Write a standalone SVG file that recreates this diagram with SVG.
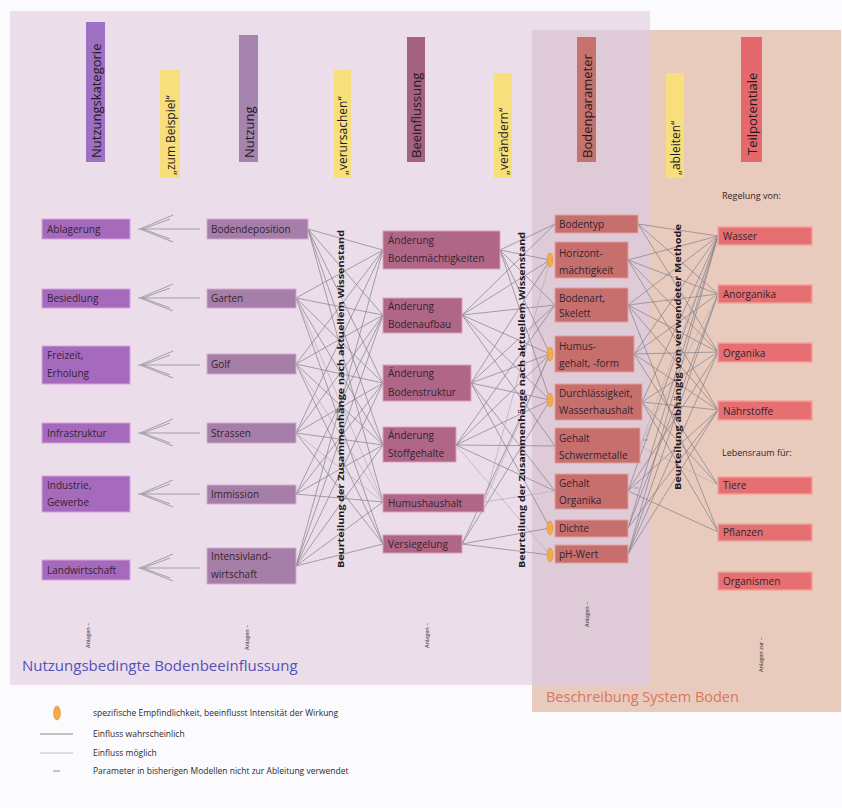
<svg xmlns="http://www.w3.org/2000/svg" width="842" height="808" viewBox="0 0 842 808">
<style>
text{font-family:"Open Sans","Liberation Sans",sans-serif;fill:#33242f}
.t{font-size:10px}
.h{font-size:13px;dominant-baseline:central;fill:#241a22}
.q{font-size:12px;dominant-baseline:central;fill:#241a22}
.v{font-size:9.5px;dominant-baseline:central;fill:#1f1a1f;font-weight:bold}
.s{font-size:5.5px;dominant-baseline:central;fill:#222}
.lg{font-size:8.5px;fill:#2a2a30}
.n1{fill:#a66abd;stroke:#d9a2db;stroke-width:1}
.n2{fill:#a67fa8;stroke:#d7a9cf;stroke-width:1}
.n3{fill:#b06687;stroke:#dba0b8;stroke-width:1}
.n4{fill:#c66f6d;stroke:#e3a19a;stroke-width:1}
.n5{fill:#e56f71;stroke:#f0a3a0;stroke-width:1.5}
.y{fill:#f7df7c}
.c{stroke:#838089;stroke-width:0.7;fill:none}
.c2{stroke:#b4aeb8;stroke-width:0.7;fill:none}
.f{stroke:#a19ea6;stroke-width:1;fill:none}
.m{fill:#f2aa4a;stroke:#d88a30;stroke-width:0.5}
</style>
<rect x="0" y="0" width="842" height="808" fill="#fbfbfd"/>
<!-- backgrounds -->
<rect x="532" y="30" width="309" height="682" fill="#e8cbbc"/>
<rect x="10" y="11" width="640" height="674" fill="#e9dce8" opacity="0.93"/>
<rect x="532" y="30" width="118" height="655" fill="#dfcbd8"/>
<text x="22" y="671" style="font-size:15px;fill:#5451b5">Nutzungsbedingte Bodenbeeinflussung</text>
<text x="546" y="702" style="font-size:14.5px;fill:#d9765f">Beschreibung System Boden</text>

<!-- headers -->
<g id="header-nutzungskategorie"><rect x="86" y="22" width="19" height="140" fill="#9d70c2"/><text class="h" transform="translate(95.5,158) rotate(-90)">Nutzungskategorie</text></g>
<g id="header-zumbeispiel"><rect x="160" y="70" width="20" height="108" class="y"/><text class="q" transform="translate(170,175) rotate(-90)">„zum Beispiel“</text></g>
<g id="header-nutzung"><rect x="239" y="35" width="19" height="127" fill="#a584ae"/><text class="h" transform="translate(248.5,158) rotate(-90)">Nutzung</text></g>
<g id="header-verursachen"><rect x="334" y="70" width="17" height="108" class="y"/><text class="q" transform="translate(342.5,175) rotate(-90)">„verursachen“</text></g>
<g id="header-beeinflussung"><rect x="407" y="37" width="18" height="125" fill="#a3627f"/><text class="h" transform="translate(416,158) rotate(-90)">Beeinflussung</text></g>
<g id="header-veraendern"><rect x="494" y="73" width="18" height="105" class="y"/><text class="q" transform="translate(503,175) rotate(-90)">„verändern“</text></g>
<g id="header-bodenparameter"><rect x="577" y="37" width="19" height="125" fill="#c6726d"/><text class="h" transform="translate(586.5,158) rotate(-90)">Bodenparameter</text></g>
<g id="header-ableiten"><rect x="666" y="73" width="18" height="105" class="y"/><text class="q" transform="translate(675,175) rotate(-90)">„ableiten“</text></g>
<g id="header-teilpotentiale"><rect x="741" y="37" width="21" height="125" fill="#e5696c"/><text class="h" transform="translate(751.5,155) rotate(-90)">Teilpotentiale</text></g>
<text class="t" x="722" y="199" style="font-size:9px">Regelung von:</text>
<text class="t" x="722" y="456" style="font-size:9px">Lebensraum für:</text>

<!-- connectors -->
<g id="connectors">
<g id="fans" class="f">
<path d="M200 229H138M140 229L173 215M140 229L173 242M143 229L170 219M143 229L170 239"/>
<path d="M200 298H138M140 298L173 284M140 298L173 311M143 298L170 288M143 298L170 308"/>
<path d="M200 365H138M140 365L173 351M140 365L173 378M143 365L170 355M143 365L170 375"/>
<path d="M200 433H138M140 433L173 419M140 433L173 446M143 433L170 423M143 433L170 443"/>
<path d="M200 494H138M140 494L173 480M140 494L173 507M143 494L170 484M143 494L170 504"/>
<path d="M200 568H138M140 568L173 554M140 568L173 581M143 568L170 558M143 568L170 578"/>
</g>
<g id="c23">
<path class="c" d="M308 229L383 250M308 229L383 315M308 229L383 383M308 229L383 445M308 229L383 502"/>
<path class="c" d="M296 298L383 250M296 298L383 315M296 298L383 383M296 298L383 445M296 298L383 544"/>
<path class="c2" d="M296 298L383 502"/>
<path class="c" d="M296 364L383 250M296 364L383 315M296 364L383 383M296 364L383 445M296 364L383 544"/>
<path class="c" d="M296 433L383 250M296 433L383 315M296 433L383 383M296 433L383 445M296 433L383 544"/>
<path class="c2" d="M296 433L383 502M296 364L383 502"/>
<path class="c" d="M296 494L383 383M296 494L383 445M296 494L383 502M296 494L383 315"/>
<path class="c" d="M296 566L383 250M296 566L383 315M296 566L383 383M296 566L383 445M296 566L383 502M296 566L383 544"/>
</g>
<g id="c34">
<path class="c" d="M500 250L555 224M500 250L550 260M500 250L555 305M500 250L550 354M500 250L550 400"/>
<path class="c" d="M462 315L555 224M462 315L550 260M462 315L555 305M462 315L550 354M462 315L550 400M462 315L555 446"/>
<path class="c" d="M471 383L550 260M471 383L555 305M471 383L550 354M471 383L550 400M471 383L555 491M471 383L550 528"/>
<path class="c" d="M456 445L555 305M456 445L550 354M456 445L550 400M456 445L555 446M456 445L555 491"/>
<path class="c2" d="M484 502L550 260M484 502L550 354M484 502L555 491M456 445L550 555"/>
<path class="c" d="M462 544L550 400M462 544L550 528M462 544L550 555M462 544L550 354"/>
</g>
<g id="c45">
<path class="c" d="M638 224L718 236M638 224L718 294M638 224L718 352"/>
<path class="c" d="M628 260L718 236M628 260L718 294M628 260L718 352M628 260L718 410"/>
<path class="c" d="M628 305L718 236M628 305L718 294M628 305L718 352M628 305L718 410M628 305L718 532"/>
<path class="c" d="M634 354L718 236M634 354L718 294M634 354L718 352M634 354L718 410M634 354L718 485"/>
<path class="c" d="M642 402L718 236M642 402L718 352M642 402L718 410M642 402L718 485M642 402L718 532"/>
<path class="c2" d="M640 446L718 294M640 446L718 236M640 446L718 485"/>
<path class="c" d="M628 491L718 352M628 491L718 236M628 491L718 410M628 491L718 532"/>
<path class="c" d="M628 528L718 236M628 528L718 294M628 528L718 410"/>
<path class="c" d="M628 554L718 236M628 554L718 294M628 554L718 352M628 554L718 410"/>
<path class="c" d="M643 440h5M634 488h5"/>
</g>
</g>

<!-- vertical labels -->
<text class="v" transform="translate(340,568) rotate(-90)" textLength="338" lengthAdjust="spacingAndGlyphs">Beurteilung der Zusammenhänge nach aktuellem Wissenstand</text>
<text class="v" transform="translate(521,568) rotate(-90)" textLength="336" lengthAdjust="spacingAndGlyphs">Beurteilung der Zusammenhänge nach aktuellem Wissenstand</text>
<text class="v" transform="translate(677,490) rotate(-90)" style="font-size:9px" textLength="266" lengthAdjust="spacingAndGlyphs">Beurteilung abhängig von verwendeter Methode</text>

<!-- column 1 -->
<g id="ablagerung"><rect class="n1" x="42" y="219" width="88" height="20"/><text class="t" x="47" y="233">Ablagerung</text></g>
<g id="besiedlung"><rect class="n1" x="42" y="289" width="88" height="19"/><text class="t" x="47" y="302">Besiedlung</text></g>
<g id="freizeit"><rect class="n1" x="42" y="346" width="88" height="38"/><text class="t" x="47" y="359">Freizeit,</text><text class="t" x="47" y="377">Erholung</text></g>
<g id="infrastruktur"><rect class="n1" x="42" y="423" width="88" height="20"/><text class="t" x="47" y="437">Infrastruktur</text></g>
<g id="industrie"><rect class="n1" x="42" y="476" width="88" height="36"/><text class="t" x="47" y="489">Industrie,</text><text class="t" x="47" y="506">Gewerbe</text></g>
<g id="landwirtschaft"><rect class="n1" x="42" y="560" width="88" height="20"/><text class="t" x="47" y="574">Landwirtschaft</text></g>

<!-- column 2 -->
<g id="bodendeposition"><rect class="n2" x="207" y="219" width="101" height="20"/><text class="t" x="211" y="233">Bodendeposition</text></g>
<g id="garten"><rect class="n2" x="207" y="289" width="89" height="19"/><text class="t" x="211" y="302">Garten</text></g>
<g id="golf"><rect class="n2" x="207" y="354" width="89" height="20"/><text class="t" x="211" y="368">Golf</text></g>
<g id="strassen"><rect class="n2" x="207" y="423" width="89" height="20"/><text class="t" x="211" y="437">Strassen</text></g>
<g id="immission"><rect class="n2" x="207" y="485" width="89" height="19"/><text class="t" x="211" y="498">Immission</text></g>
<g id="intensivlandwirtschaft"><rect class="n2" x="207" y="548" width="89" height="36"/><text class="t" x="211" y="560">Intensivland-</text><text class="t" x="211" y="578">wirtschaft</text></g>

<!-- column 3 -->
<g id="aend-maechtigkeit"><rect class="n3" x="383" y="231" width="117" height="38"/><text class="t" x="388" y="244">Änderung</text><text class="t" x="388" y="262">Bodenmächtigkeiten</text></g>
<g id="aend-aufbau"><rect class="n3" x="383" y="298" width="79" height="35"/><text class="t" x="388" y="310">Änderung</text><text class="t" x="388" y="328">Bodenaufbau</text></g>
<g id="aend-struktur"><rect class="n3" x="383" y="365" width="88" height="36"/><text class="t" x="388" y="377">Änderung</text><text class="t" x="388" y="396">Bodenstruktur</text></g>
<g id="aend-stoff"><rect class="n3" x="383" y="427" width="73" height="35"/><text class="t" x="388" y="439">Änderung</text><text class="t" x="388" y="457">Stoffgehalte</text></g>
<g id="humushaushalt"><rect class="n3" x="383" y="494" width="101" height="18"/><text class="t" x="388" y="507">Humushaushalt</text></g>
<g id="versiegelung"><rect class="n3" x="383" y="535" width="79" height="18"/><text class="t" x="388" y="548">Versiegelung</text></g>

<!-- column 4 -->
<g id="bodentyp"><rect class="n4" x="555" y="215" width="83" height="18"/><text class="t" x="559" y="228">Bodentyp</text></g>
<g id="horizont"><rect class="n4" x="555" y="242" width="73" height="36"/><text class="t" x="559" y="257">Horizont-</text><text class="t" x="559" y="274">mächtigkeit</text></g>
<g id="bodenart"><rect class="n4" x="555" y="288" width="73" height="34"/><text class="t" x="559" y="302">Bodenart,</text><text class="t" x="559" y="317">Skelett</text></g>
<g id="humus"><rect class="n4" x="555" y="336" width="79" height="36"/><text class="t" x="559" y="350">Humus-</text><text class="t" x="559" y="367">gehalt, -form</text></g>
<g id="durchlaessigkeit"><rect class="n4" x="555" y="384" width="87" height="36"/><text class="t" x="559" y="397">Durchlässigkeit,</text><text class="t" x="559" y="414">Wasserhaushalt</text></g>
<g id="schwermetalle"><rect class="n4" x="555" y="428" width="85" height="35"/><text class="t" x="559" y="442">Gehalt</text><text class="t" x="559" y="459">Schwermetalle</text></g>
<g id="organika4"><rect class="n4" x="555" y="474" width="73" height="35"/><text class="t" x="559" y="487">Gehalt</text><text class="t" x="559" y="504">Organika</text></g>
<g id="dichte"><rect class="n4" x="555" y="520" width="73" height="17"/><text class="t" x="559" y="532">Dichte</text></g>
<g id="ph"><rect class="n4" x="555" y="545" width="73" height="18"/><text class="t" x="559" y="558">pH-Wert</text></g>
<g id="markers">
<ellipse class="m" cx="550" cy="260" rx="3" ry="7"/>
<ellipse class="m" cx="550" cy="354" rx="3" ry="7"/>
<ellipse class="m" cx="550" cy="400" rx="3" ry="7"/>
<ellipse class="m" cx="550" cy="528" rx="3" ry="7"/>
<ellipse class="m" cx="550" cy="555" rx="3" ry="7"/>
</g>

<!-- column 5 -->
<g id="wasser"><rect class="n5" x="718" y="227" width="94" height="18"/><text class="t" x="723" y="240">Wasser</text></g>
<g id="anorganika"><rect class="n5" x="718" y="285" width="94" height="18"/><text class="t" x="723" y="298">Anorganika</text></g>
<g id="organika5"><rect class="n5" x="718" y="343" width="94" height="19"/><text class="t" x="723" y="357">Organika</text></g>
<g id="naehrstoffe"><rect class="n5" x="718" y="401" width="94" height="19"/><text class="t" x="723" y="415">Nährstoffe</text></g>
<g id="tiere"><rect class="n5" x="718" y="477" width="94" height="17"/><text class="t" x="723" y="489">Tiere</text></g>
<g id="pflanzen"><rect class="n5" x="718" y="524" width="94" height="17"/><text class="t" x="723" y="536">Pflanzen</text></g>
<g id="organismen"><rect class="n5" x="718" y="572" width="94" height="18"/><text class="t" x="723" y="585">Organismen</text></g>

<!-- small vertical notes -->
<text class="s" transform="translate(88,648) rotate(-90)">Anlagen –</text>
<text class="s" transform="translate(247,650) rotate(-90)">Anlagen –</text>
<text class="s" transform="translate(427,648) rotate(-90)">Anlagen –</text>
<text class="s" transform="translate(587,627) rotate(-90)">Anlagen –</text>
<text class="s" transform="translate(761,672) rotate(-90)">Anlagen zur –</text>

<!-- legend -->
<g id="legend">
<ellipse class="m" cx="57" cy="713" rx="3.5" ry="7"/>
<text class="lg" x="93" y="716">spezifische Empfindlichkeit, beeinflusst Intensität der Wirkung</text>
<line x1="40" y1="734" x2="73" y2="734" stroke="#8d8a92" stroke-width="1"/>
<text class="lg" x="93" y="737">Einfluss wahrscheinlich</text>
<line x1="40" y1="753" x2="73" y2="753" stroke="#c2bec6" stroke-width="1"/>
<text class="lg" x="93" y="756">Einfluss möglich</text>
<line x1="53" y1="771" x2="60" y2="771" stroke="#8d8a92" stroke-width="1"/>
<text class="lg" x="93" y="774">Parameter in bisherigen Modellen nicht zur Ableitung verwendet</text>
</g>
</svg>
